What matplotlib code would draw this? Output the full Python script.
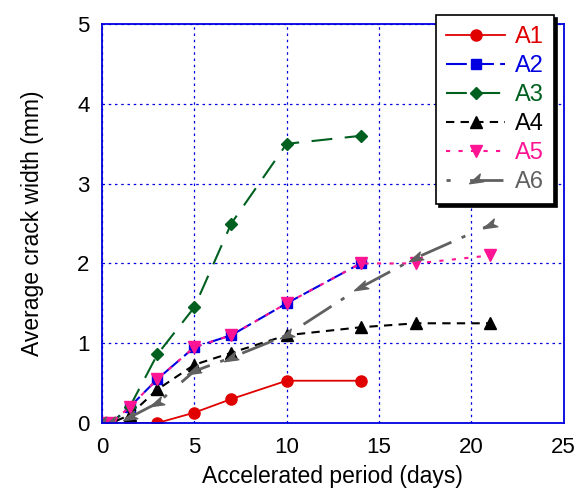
import matplotlib.pyplot as plt
from matplotlib.markers import MarkerStyle
from matplotlib.path import Path
from matplotlib.transforms import Affine2D

plt.rcParams['font.family'] = ['Liberation Sans', 'DejaVu Sans']

days = [0, 0.5, 1.5, 3, 5, 7, 10, 14]
days_long = [0, 0.5, 1.5, 3, 5, 7, 10, 14, 17, 21]

a1 = [0, 0, 0, 0, 0.13, 0.3, 0.53, 0.53]
a2 = [0, 0, 0.2, 0.55, 0.95, 1.1, 1.5, 2.0]
a3 = [0, 0, 0.2, 0.86, 1.45, 2.5, 3.5, 3.6]
a4 = [0, 0, 0.1, 0.42, 0.73, 0.88, 1.1, 1.2, 1.25, 1.25]
a5 = [0, 0, 0.2, 0.55, 0.95, 1.1, 1.5, 2.0, 2.0, 2.1]
a6 = [0, 0, 0.07, 0.25, 0.65, 0.82, 1.1, 1.7, 2.07, 2.48]

# arrow-head marker for A6
arrow = Path([(-1, 0), (0.8, 0.55), (0.35, 0), (0.8, -0.55), (-1, 0)],
             [Path.MOVETO, Path.LINETO, Path.LINETO, Path.LINETO, Path.CLOSEPOLY])
arrow_mk = MarkerStyle(arrow, transform=Affine2D().rotate_deg(25))

fig = plt.figure(figsize=(5.86, 4.93), dpi=100)
ax = fig.add_axes([0.174, 0.142, 0.788, 0.809])

ax.plot(days, a1, color='#e00000', marker='o', ms=8, lw=1.3, label='A1')
ax.plot(days, a2, color='#0000e0', marker='s', ms=7.5, lw=1.5,
        dashes=(10, 3), label='A2')
ax.plot(days, a3, color='#006020', marker='D', ms=6, lw=1.5,
        dashes=(10, 6), label='A3')
ax.plot(days_long, a4, color='black', marker='^', ms=8, lw=1.5,
        dashes=(4, 3), label='A4')
ax.plot(days_long, a5, color='#ff1493', marker='v', ms=8, lw=1.5,
        dashes=(2, 4), label='A5')
ax.plot(days_long, a6, color='#606060', marker=arrow_mk, ms=11, lw=2,
        dashes=(1.5, 7, 12, 4), label='A6')

ax.set_xlim(0, 25)
ax.set_ylim(0, 5)
ax.set_xticks([0, 5, 10, 15, 20, 25])
ax.set_yticks([0, 1, 2, 3, 4, 5])
ax.grid(True, color='#0000e0', linestyle=(0, (2, 3)), lw=0.9)
for s in ax.spines.values():
    s.set_color('#0000e0')
    s.set_linewidth(1.3)
ax.tick_params(axis='x', length=0, labelsize=16, pad=10, colors='black')
ax.tick_params(axis='y', length=0, labelsize=16, pad=9, colors='black')
ax.set_xlabel('Accelerated period (days)', fontsize=16.5, labelpad=5)
ax.set_ylabel('Average crack width (mm)', fontsize=16.5, labelpad=24)

leg = ax.legend(loc='upper right', bbox_to_anchor=(0.98, 1.022),
                borderaxespad=0, fontsize=17, frameon=True, fancybox=False,
                shadow={'color': 'black', 'alpha': 1},
                handlelength=2.5, labelspacing=0.3, borderpad=0.45,
                handletextpad=0.4, framealpha=1)
leg.get_frame().set_edgecolor('black')
leg.get_frame().set_linewidth(1.2)
cols = ['#e00000', '#0000e0', '#006020', 'black', '#ff1493', '#606060']
for t, c in zip(leg.get_texts(), cols):
    t.set_color(c)

fig.savefig('out.png', dpi=100)
